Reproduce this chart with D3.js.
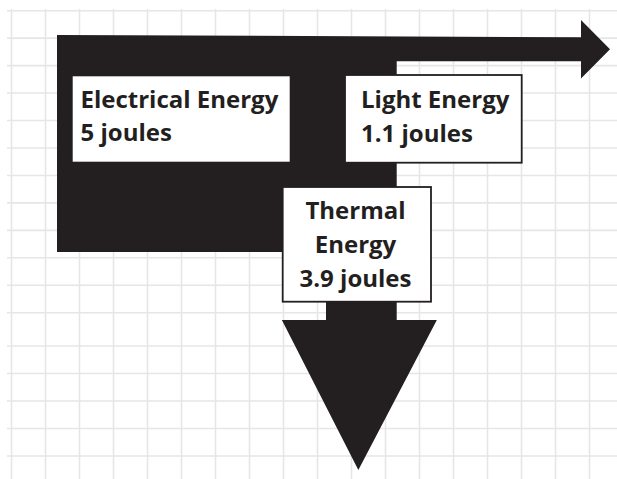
<!DOCTYPE html>
<html>
<head>
<meta charset="utf-8">
<script src="https://cdn.jsdelivr.net/npm/d3@7"></script>
<style>
  body { margin: 0; background: #fff; }
  svg { display: block; }
  text { font-family: "Open Sans", Lato, sans-serif; font-weight: 700; fill: #231f20; }
</style>
</head>
<body>
<svg id="chart" width="617" height="479"></svg>
<script>
// energy values (joules)
var forms = ["Electrical Energy", "Light Energy", "Thermal Energy"]
var joules = [5, 1.1, 3.9]
// how each label is broken into lines
var labelLines = [
  ["Electrical Energy", "5 joules"],
  ["Light Energy", "1.1 joules"],
  ["Thermal", "Energy", "3.9 joules"]
]

// background grid (column / row indexes)
var gridCols = d3.range(0, 18)
var gridRows = d3.range(0, 17)

var W = 617, H = 479
var ink = "#231f20"

var svg = d3.select("#chart")

// grid scales; one row of the paper is a bit taller than the rest
var gx = d3.scaleLinear().domain([0, 1]).range([11.5, 45.5])
var gy = d3.scaleLinear().domain([0, 11, 12, 16]).range([10.7, 312.7, 346, 456])

var grid = svg.append("g").attr("stroke", "#e6e6e6").attr("stroke-width", 1.6)
grid.selectAll("line.h")
  .data(gridRows)
  .enter()
  .append("line")
  .attr("x1", 7).attr("x2", W)
  .attr("y1", d => gy(d)).attr("y2", d => gy(d))
grid.selectAll("line.v")
  .data(gridCols)
  .enter()
  .append("line")
  .attr("x1", d => gx(d)).attr("x2", d => gx(d))
  .attr("y1", 9).attr("y2", H)

// band width of an output flow
var bw = d3.scaleLinear().domain([joules[1], joules[2]]).range([24, 70.7])

// layout of the flow shape
var src = {x0: 57, y0: 35, y1: 252}
var lightEnd = 581, lightTopR = 37.3, headLen = 29, headHalf = 29.3
var shaftRight = 396.7, shaftEnd = 320, downHalf = 77.5, tipY = 470

var lightW = bw(joules[1])
var thermW = bw(joules[2])
var shaftLeft = shaftRight - thermW
var lightMid = lightTopR + lightW / 2
var downMid = (shaftLeft + shaftRight) / 2 - 2

var pts = [
  [src.x0, src.y0],
  [lightEnd, lightTopR],
  [lightEnd, lightMid - headHalf],
  [lightEnd + headLen, lightMid],
  [lightEnd, lightMid + headHalf],
  [lightEnd, lightTopR + lightW],
  [shaftRight, lightTopR + lightW],
  [shaftRight, shaftEnd],
  [downMid + downHalf, shaftEnd],
  [downMid - 1, tipY],
  [downMid - downHalf, shaftEnd],
  [shaftLeft, shaftEnd],
  [shaftLeft, src.y1],
  [src.x0, src.y1]
]

svg.append("path")
  .attr("d", d3.line()(pts) + "Z")
  .attr("fill", ink)

// label boxes
var boxes = [
  {x: 72.7, y: 76.3, w: 217, h: 85.4, stroke: false, tx: 80.5, anchor: "start", y0: 108, dy: 32.5},
  {x: 345, y: 75, w: 176.7, h: 87.7, stroke: true, tx: 361, anchor: "start", y0: 108.3, dy: 33.4},
  {x: 282.7, y: 187, w: 148.3, h: 114.7, stroke: true, tx: 355.5, anchor: "middle", y0: 218.5, dy: 34}
]

var lab = svg.selectAll("g.lab")
  .data(forms)
  .enter()
  .append("g")
  .classed("lab", true)

lab.append("rect")
  .attr("x", (d, i) => boxes[i].x)
  .attr("y", (d, i) => boxes[i].y)
  .attr("width", (d, i) => boxes[i].w)
  .attr("height", (d, i) => boxes[i].h)
  .attr("fill", "#fff")
  .attr("stroke", (d, i) => boxes[i].stroke ? ink : "none")
  .attr("stroke-width", 1.8)

lab.each(function(d, i) {
  var b = boxes[i]
  d3.select(this).selectAll("text")
    .data(labelLines[i])
    .enter()
    .append("text")
    .attr("x", b.tx)
    .attr("y", (t, j) => b.y0 + j * b.dy)
    .attr("text-anchor", b.anchor)
    .style("font-size", "24px")
    .text(t => t)
})
</script>
</body>
</html>
